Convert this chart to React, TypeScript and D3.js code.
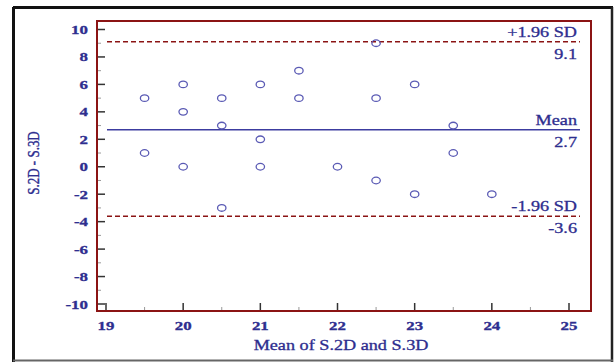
import * as d3 from "d3";

// Bland-Altman data: mean of the two methods vs difference
const meanVals = [19.5, 19.5, 20, 20, 20, 20.5, 20.5, 20.5, 21, 21, 21, 21.5, 21.5, 22, 22.5, 22.5, 22.5, 23, 23, 23.5, 23.5, 24];
const diffVals = [5, 1, 6, 4, 0, 5, 3, -3, 6, 2, 0, 7, 5, 0, 9, 5, -1, 6, -2, 3, 1, -2];
const xTicks = [19, 20, 21, 22, 23, 24, 25];
const yTicks = [10, 8, 6, 4, 2, 0, -2, -4, -6, -8, -10];
const refLines = [
  { value: 9.1, top: "+1.96 SD", bottom: "9.1", dashed: true },
  { value: 2.7, top: "Mean", bottom: "2.7", dashed: false },
  { value: -3.6, top: "-1.96 SD", bottom: "-3.6", dashed: true },
];

const W = 615;
const H = 364;
const box = { left: 97, top: 21, right: 591, bottom: 311 };
const navy = "#2e2e8f";
const dark = "#8b1414";
const font = "'Liberation Serif', 'Times New Roman', serif";
const stretch = 1.3; // the original picture is stretched sideways

function Txt({ x, y, anchor = "start", bold = false, size = 14, rotate = 0, children }: any) {
  return (
    <text
      transform={`translate(${x},${y}) scale(${stretch},1) rotate(${rotate})`}
      textAnchor={anchor}
      fill={navy}
      stroke={navy}
      strokeWidth={0.3}
      fontFamily={font}
      fontSize={size}
      fontWeight={bold ? "bold" : "normal"}
    >
      {children}
    </text>
  );
}

export default function App() {
  const x = d3.scaleLinear().domain([19, 25]).range([106, 569]);
  const y = d3.scaleLinear().domain([-10, 10]).range([304, 29.5]);
  const minorX = d3.range(19.5, 25, 1);
  const minorY = d3.range(-9, 10, 2);
  const lineX0 = 107;
  const lineX1 = 580;

  return (
    <svg width={W} height={H} style={{ position: "absolute", left: 0, top: 0, background: "#fff" }}>
      {/* outer frame */}
      <line x1={13} y1={7.5} x2={613} y2={7.5} stroke="#111" strokeWidth={3} />
      <line x1={13.5} y1={7} x2={13.5} y2={362} stroke="#111" strokeWidth={3} />
      <line x1={612} y1={7} x2={612} y2={362} stroke="#222" strokeWidth={2.5} />
      <line x1={13} y1={360.5} x2={613} y2={360.5} stroke="#666" strokeWidth={2} />

      {/* y ticks */}
      {yTicks.map((t) => (
        <g key={"y" + t}>
          <line x1={box.left} x2={box.left + 8} y1={y(t)} y2={y(t)} stroke="#333" strokeWidth={1.5} />
          <Txt x={88} y={y(t) + 4.5} anchor="end" bold size={13}>
            {t}
          </Txt>
        </g>
      ))}
      {minorY.map((t) => (
        <line key={"my" + t} x1={box.left} x2={box.left + 4} y1={y(t)} y2={y(t)} stroke="#999" strokeWidth={1} />
      ))}

      {/* x ticks */}
      {xTicks.map((t) => (
        <g key={"x" + t}>
          <line x1={x(t)} x2={x(t)} y1={box.bottom} y2={box.bottom - 8} stroke="#333" strokeWidth={1.5} />
          <Txt x={x(t)} y={330} anchor="middle" bold size={13}>
            {t}
          </Txt>
        </g>
      ))}
      {minorX.map((t) => (
        <line key={"mx" + t} x1={x(t)} x2={x(t)} y1={box.bottom} y2={box.bottom - 4} stroke="#999" strokeWidth={1} />
      ))}

      {/* reference lines */}
      {refLines.map((r) => (
        <g key={r.top}>
          <line
            x1={lineX0}
            x2={lineX1}
            y1={y(r.value)}
            y2={y(r.value)}
            stroke={r.dashed ? dark : "#3c3ca0"}
            strokeWidth={1.5}
            strokeDasharray={r.dashed ? "5,3" : undefined}
          />
          <Txt x={lineX1 - 3} y={y(r.value) - 5} anchor="end">
            {r.top}
          </Txt>
          <Txt x={lineX1 - 3} y={y(r.value) + 17} anchor="end">
            {r.bottom}
          </Txt>
        </g>
      ))}

      {/* points */}
      {meanVals.map((m, i) => (
        <ellipse key={i} cx={x(m)} cy={y(diffVals[i])} rx={4.2} ry={3.3} fill="none" stroke="#5a5ab4" strokeWidth={1.3} />
      ))}

      {/* plot border */}
      <rect
        x={box.left}
        y={box.top}
        width={box.right - box.left}
        height={box.bottom - box.top}
        fill="none"
        stroke={dark}
        strokeWidth={2}
      />

      {/* axis titles */}
      <Txt x={341} y={350} anchor="middle">
        Mean of S.2D and S.3D
      </Txt>
      <Txt x={39} y={163} anchor="middle" size={13} rotate={-90}>
        S.2D - S.3D
      </Txt>
    </svg>
  );
}
